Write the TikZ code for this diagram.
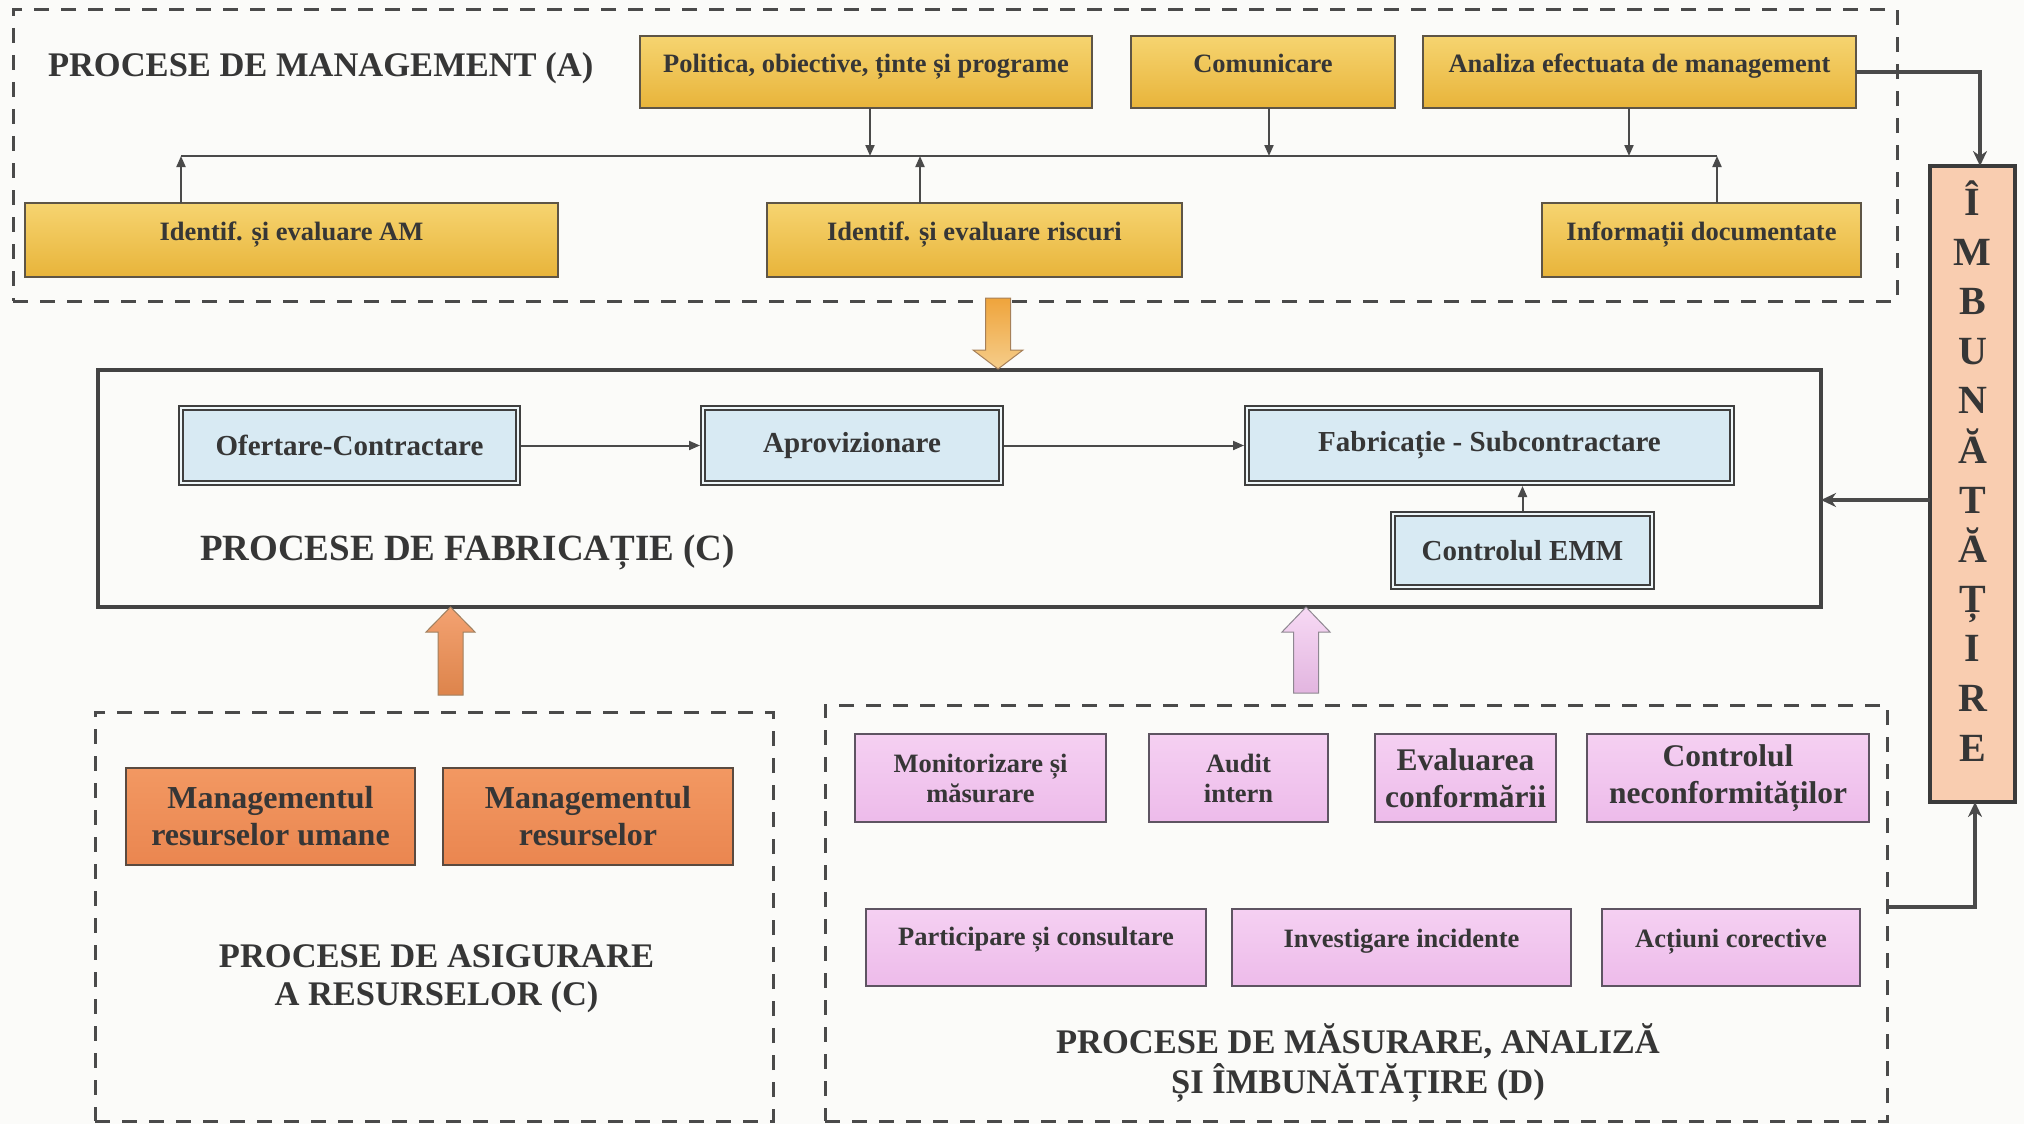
\documentclass[tikz,border=0pt]{standalone}
\usepackage{fontspec}
\setmainfont{Liberation Serif}
\usetikzlibrary{arrows.meta,calc}
\definecolor{bg}{HTML}{FBFBF9}
\definecolor{txt}{HTML}{363636}
\definecolor{ln}{HTML}{4A4A4A}
\definecolor{ytop}{HTML}{F6D470}
\definecolor{ybot}{HTML}{E8B43A}
\definecolor{yb}{HTML}{5E5546}
\definecolor{blu}{HTML}{D8EAF3}
\definecolor{otop}{HTML}{F29862}
\definecolor{obot}{HTML}{EA8650}
\definecolor{orb}{HTML}{5A4A40}
\definecolor{ptop}{HTML}{F5D0F2}
\definecolor{pbot}{HTML}{EDBBEA}
\definecolor{pb}{HTML}{5E5462}
\definecolor{peach}{HTML}{F9CDB0}
\definecolor{gtop}{HTML}{EFA43C}
\definecolor{gbot}{HTML}{F5CD8A}
\newcommand\rup[2]{\raisebox{#1}[.7em][.25em]{#2}}
\begin{document}
\begin{tikzpicture}[x=1pt,y=-1pt,
  every node/.style={text=txt, inner sep=0pt, outer sep=0pt},
  dbox/.style={draw=ln, line width=3pt, dash pattern=on 15pt off 12pt},
  ybox/.style={draw=yb, line width=2.5pt, top color=ytop, bottom color=ybot, minimum height=72, font=\fontsize{26.5}{30}\selectfont\bfseries},
  bbox/.style={draw=ln!85!black, line width=1.8pt, double=blu!40!white, double distance=2.4pt, fill=blu, minimum height=75, font=\fontsize{29}{33}\selectfont\bfseries},
  obox/.style={draw=orb, line width=2.5pt, top color=otop, bottom color=obot, minimum height=97, align=center, font=\fontsize{32}{37}\selectfont\bfseries},
  pbox/.style={draw=pb, line width=2.2pt, top color=ptop, bottom color=pbot, align=center, font=\fontsize{26.5}{30}\selectfont\bfseries},
  pboxL/.style={pbox, font=\fontsize{31.5}{37}\selectfont\bfseries},
  capbig/.style={font=\fontsize{34.5}{38}\selectfont\bfseries, align=center},
  arr/.style={draw=ln, line width=2pt, -{Triangle[length=11pt,width=9pt]}},
  tarr/.style={draw=ln, line width=3.5pt, -{Stealth[length=15pt,width=14pt]}},
  line/.style={draw=ln, line width=2pt}]
\useasboundingbox (0,0) rectangle (2024,1124);
\fill[bg] (0,0) rectangle (2024,1124);

% dashed group boxes
\node[dbox, minimum width=1884, minimum height=291] (A) at (955,155.5) {};
\node[dbox, minimum width=678, minimum height=409] (R) at (434,916.5) {};
\node[dbox, minimum width=1062, minimum height=416] (D) at (1356,913) {};

% management
\node[capbig, anchor=west] (capA) at (48,68) {PROCESE DE MANAGEMENT (A)};
\node[ybox, minimum width=452] (pol) at (866,72) {\rup{5pt}{Politica, obiective, ținte și programe}};
\node[ybox, minimum width=264] (com) at (1263,72) {\rup{5pt}{Comunicare}};
\node[ybox, minimum width=433] (ana) at (1639.5,72) {\rup{5pt}{Analiza efectuata de management}};
\node[ybox, minimum width=533, minimum height=74] (am) at (291.5,240) {\rup{5pt}{Identif. și evaluare AM}};
\node[ybox, minimum width=415, minimum height=74] (ris) at (974.5,240) {\rup{5pt}{Identif. și evaluare riscuri}};
\node[ybox, minimum width=319, minimum height=74] (inf) at (1701.5,240) {\rup{5pt}{Informații documentate}};

\coordinate (b0) at (181,156);
\coordinate (b1) at (870,156);
\coordinate (b2) at (920,156);
\coordinate (b3) at (1269,156);
\coordinate (b4) at (1629,156);
\coordinate (b5) at (1717,156);
\draw[line] (b0) -- (b5);
\draw[arr] (pol.south -| b1) -- (b1);
\draw[arr] (com.south -| b3) -- (b3);
\draw[arr] (ana.south -| b4) -- (b4);
\draw[arr] (am.north -| b0) -- (b0);
\draw[arr] (ris.north -| b2) -- (b2);
\draw[arr] (inf.north -| b5) -- (b5);

% fabrication
\node[draw=ln!90!black, line width=4pt, minimum width=1723, minimum height=237] (fab) at (959.5,488.5) {};
\node[bbox, minimum width=337] (of) at (349.5,445.5) {Ofertare-Contractare};
\node[bbox, minimum width=298] (ap) at (852,445.5) {Aprovizionare};
\node[bbox, minimum width=485] (fabr) at (1489.5,445.5) {Fabricație - Subcontractare};
\node[bbox, minimum width=259, minimum height=73] (ctl) at (1522.5,550.5) {Controlul EMM};
\node[font=\fontsize{37}{40}\selectfont\bfseries, anchor=west] (capC) at (200,552) {PROCESE DE FABRICAȚIE (C)};
\draw[arr] ([xshift=3]of.east) -- ([xshift=-3]ap.west);
\draw[arr] ([xshift=3]ap.east) -- ([xshift=-3]fabr.west);
\draw[arr] ([yshift=3]ctl.north) -- ([yshift=-3]ctl.north |- fabr.south);

% improvement
\node[draw=ln!80!black, line width=3.5pt, fill=peach, minimum width=85, minimum height=636] (imb) at (1972.5,484) {};
\node[font=\fontsize{40}{49.6}\selectfont\bfseries, align=center] (imbt) at (1972.5,471) {Î\\M\\B\\U\\N\\Ă\\T\\Ă\\Ț\\I\\R\\E};
\coordinate (c2) at (0,500);
\coordinate (c3) at (0,907);
\draw[tarr] (ana.east) -| ([xshift=7.5]imb.north);
\draw[tarr] (imb.west |- c2) -- (fab.east |- c2);
\draw[tarr] (D.east |- c3) -| ([xshift=2.5]imb.south);

% resources
\node[obox, minimum width=289] (mru) at (270.5,816.5) {Managementul\\resurselor umane};
\node[obox, minimum width=290] (mr) at (588,816.5) {Managementul\\resurselor};
\node[capbig] (capR) at (436.5,979) {PROCESE DE ASIGURARE\\A RESURSELOR (C)};

% measurement
\node[pbox, minimum width=251, minimum height=88] (mon) at (980.5,778) {Monitorizare și\\măsurare};
\node[pbox, minimum width=179, minimum height=88] (aud) at (1238.5,778) {Audit\\intern};
\node[pboxL, minimum width=181, minimum height=88] (eva) at (1465.5,778) {Evaluarea\\conformării};
\node[pboxL, minimum width=282, minimum height=88] (ctn) at (1728,778) {Controlul\\neconformităților};
\node[pbox, minimum width=340, minimum height=77] (par) at (1036,947.5) {\rup{8pt}{Participare și consultare}};
\node[pbox, minimum width=339, minimum height=77] (inv) at (1401.5,947.5) {\rup{6pt}{Investigare incidente}};
\node[pbox, minimum width=258, minimum height=77] (act) at (1731,947.5) {\rup{6pt}{Acțiuni corective}};
\node[capbig, font=\fontsize{34.5}{40}\selectfont\bfseries] (capD) at (1358,1063) {PROCESE DE MĂSURARE, ANALIZĂ\\ȘI ÎMBUNĂTĂȚIRE (D)};

% block arrows
\path[draw=brown!60!gray, line width=1pt, top color=gtop, bottom color=gbot]
  (985.5,298) -- (1010.5,298) -- (1010.5,350) -- (1023,350) -- (998,369) -- (973,350) -- (985.5,350) -- cycle;
\path[draw=brown!50!gray, line width=1pt, top color=otop!90!white, bottom color=obot!70!brown]
  (450.5,607) -- (475,632) -- (463,632) -- (463,695) -- (438,695) -- (438,632) -- (426,632) -- cycle;
\path[draw=pb!70!white, line width=1pt, top color=ptop!80!white, bottom color=pbot!90!gray]
  (1306,607) -- (1330,632) -- (1318.5,632) -- (1318.5,693) -- (1293.5,693) -- (1293.5,632) -- (1282,632) -- cycle;
\end{tikzpicture}
\end{document}
